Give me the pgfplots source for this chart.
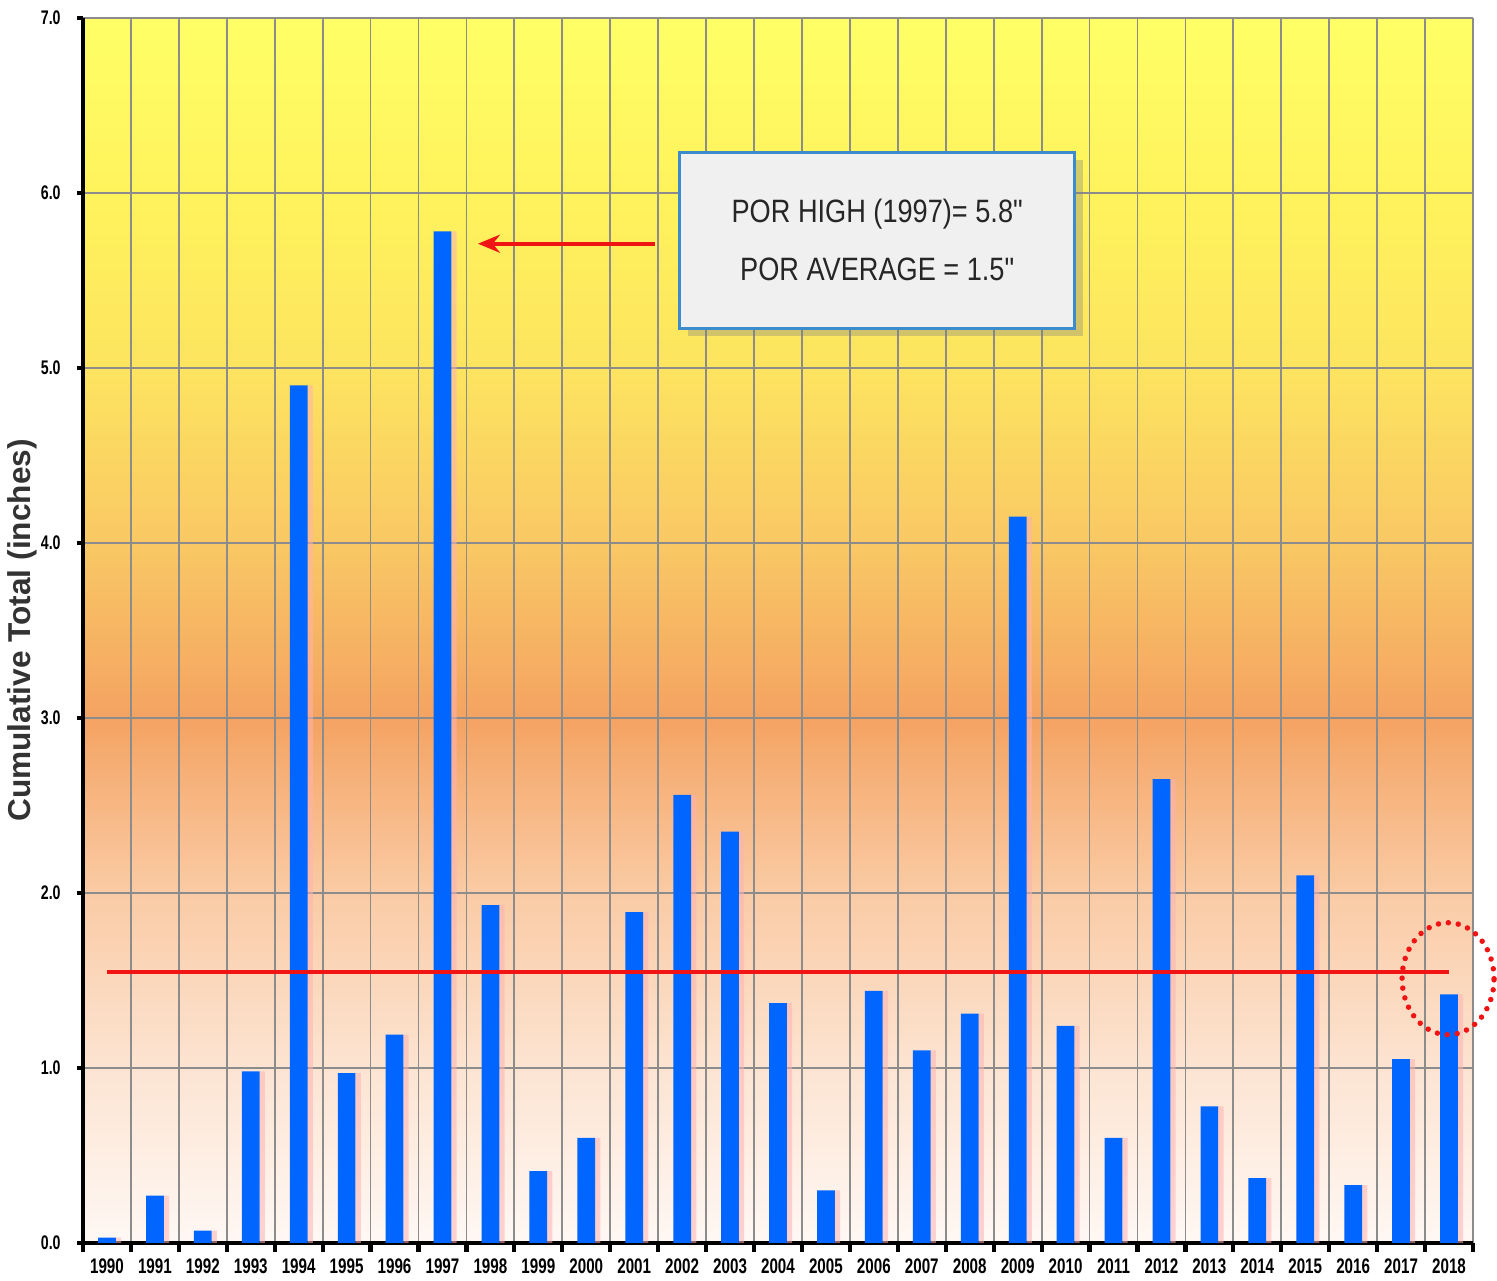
\documentclass[border=0pt]{standalone}
\usepackage{fontspec}
\setmainfont{Liberation Sans}
\newfontfamily\condfont[FakeStretch=0.72]{Liberation Sans}
\newfontfamily\boxfont[FakeStretch=0.84]{Liberation Sans}
\usepackage{pgfplots}
\usepackage{pgfplotstable}
\pgfplotsset{compat=1.18}
\usetikzlibrary{arrows.meta,shadows}

\definecolor{barblue}{RGB}{0,102,255}
\definecolor{gridgray}{RGB}{140,140,140}
\definecolor{boxfill}{RGB}{240,240,240}
\definecolor{boxedge}{RGB}{60,140,205}
\definecolor{avgred}{RGB}{240,20,20}
\definecolor{bg0}{RGB}{255,248,244}
\definecolor{bg1}{RGB}{252,228,210}
\definecolor{bg2}{RGB}{250,203,165}
\definecolor{bg3}{RGB}{244,163,98}
\definecolor{bg4}{RGB}{249,200,100}
\definecolor{bg5}{RGB}{253,228,95}
\definecolor{bg6}{RGB}{255,243,92}
\definecolor{bg7}{RGB}{255,255,102}

% path maps to 25bp..75bp, i.e. 0..7 in steps of 50/7
\pgfdeclareverticalshading{chartbg}{100bp}{color(0bp)=(bg0); color(25bp)=(bg0);
  color(32.14bp)=(bg1); color(39.29bp)=(bg2); color(46.43bp)=(bg3);
  color(53.57bp)=(bg4); color(60.71bp)=(bg5); color(67.86bp)=(bg6);
  color(75bp)=(bg7); color(100bp)=(bg7)}

\pgfplotstableread{
x year val
0  1990 0.03
1  1991 0.27
2  1992 0.07
3  1993 0.98
4  1994 4.90
5  1995 0.97
6  1996 1.19
7  1997 5.78
8  1998 1.93
9  1999 0.41
10 2000 0.60
11 2001 1.89
12 2002 2.56
13 2003 2.35
14 2004 1.37
15 2005 0.30
16 2006 1.44
17 2007 1.10
18 2008 1.31
19 2009 4.15
20 2010 1.24
21 2011 0.60
22 2012 2.65
23 2013 0.78
24 2014 0.37
25 2015 2.10
26 2016 0.33
27 2017 1.05
28 2018 1.42
}\snowdata

\begin{document}
\begin{tikzpicture}
\begin{axis}[
  width=13.9cm, height=12.25cm, scale only axis,
  xmin=-0.5, xmax=28.5, ymin=0, ymax=7,
  axis x line*=bottom, axis y line*=left,
  axis line style={-, black, line width=1.3pt},
  axis background/.style={shade, shading=chartbg},
  xtick={0,...,28},
  xticklabels from table={\snowdata}{year},
  minor xtick={-0.5,0.5,...,28.5},
  ytick={0,1,...,7},
  tick align=outside,
  major tick length=0.6mm, minor tick length=0.9mm,
  major x tick style={draw=none},
  minor x tick style={black, line width=1.2pt},
  major y tick style={black, line width=1.2pt},
  xminorgrids=true, ymajorgrids=true,
  minor x grid style={gridgray, line width=0.5pt},
  major y grid style={gridgray, line width=0.5pt},
  /pgf/number format/assume math mode=true,
  yticklabel={\pgfmathprintnumber[fixed,fixed zerofill,precision=1]{\tick}},
  yticklabel style={font=\condfont\bfseries\fontsize{5.6}{6}\selectfont, xshift=-0.4mm},
  xticklabel style={font=\condfont\bfseries\fontsize{6}{7}\selectfont, yshift=0.3mm},
  ylabel={\bfseries Cumulative Total (inches)},
  ylabel style={font=\fontsize{9}{10}\selectfont, at={(axis description cs:-0.0439,0.5)}, anchor=center, color=black!80},
  clip=false,
]
% soft pink shadow on the right side of each bar
\addplot[ybar, bar width=0.11, bar shift=0.24, fill=red!30, draw=none, opacity=0.55]
  table[x=x, y=val] {\snowdata};
\addplot[ybar, bar width=0.37, bar shift=0, fill=barblue, draw=none]
  table[x=x, y=val] {\snowdata};
% POR average
\addplot[avgred, line width=1.1pt, no marks] coordinates {(0,1.55) (28,1.55)};

\draw[avgred, line width=1.1pt, -{Stealth[length=2.2mm,width=1.8mm]}]
  (axis cs:11.43,5.71) -- (axis cs:7.74,5.71);
\node[fill=boxfill, draw=boxedge, line width=0.9pt,
      minimum width=39.5mm, minimum height=17.6mm, align=center,
      drop shadow={shadow xshift=0.8mm, shadow yshift=-0.8mm, opacity=0.35},
      font=\boxfont\fontsize{9.2}{16.5}\selectfont, text=black!85]
  at (axis cs:16.07,5.73) {POR HIGH (1997)= 5.8"\\POR AVERAGE = 1.5"};
\draw[avgred, line width=0.55mm, line cap=round, dash pattern=on 0pt off 1mm]
  (axis cs:27.98,1.51) ellipse [x radius=4.6mm, y radius=5.6mm];

\coordinate (sw) at (rel axis cs:0,0);
\coordinate (ne) at (rel axis cs:1,1);
\end{axis}
\pgfresetboundingbox
\path[use as bounding box] ([shift={(-8.3mm,-3.8mm)}]sw) rectangle ([shift={(2.4mm,1.8mm)}]ne);
\end{tikzpicture}
\end{document}
